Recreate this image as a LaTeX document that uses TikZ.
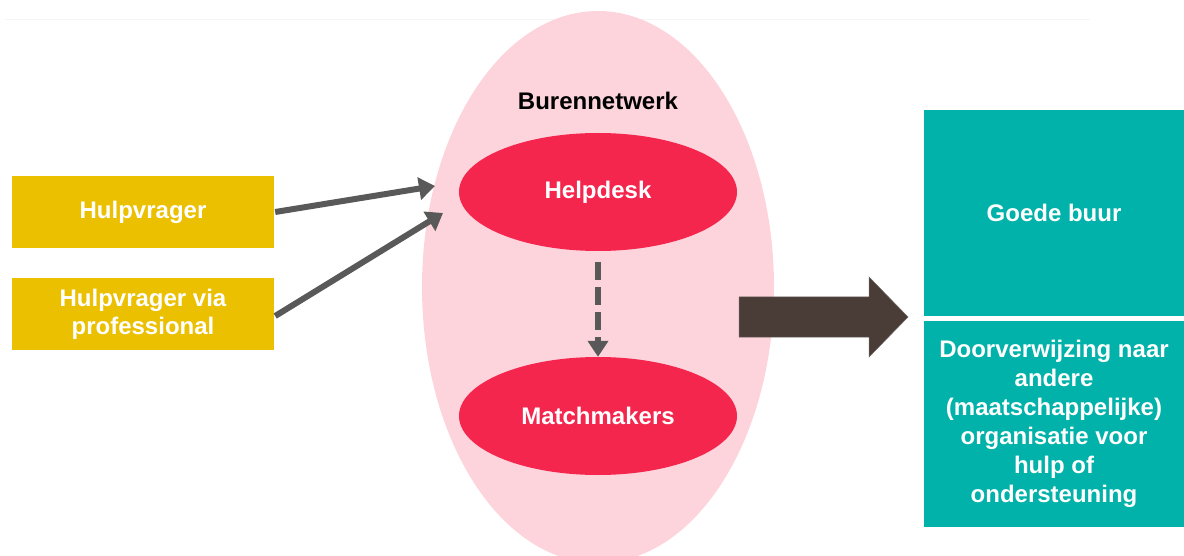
\documentclass[tikz,border=0pt]{standalone}
\usepackage{fontspec}
\setmainfont{Liberation Sans}
\usetikzlibrary{arrows.meta,shapes.geometric}
\definecolor{ybox}{HTML}{EBC000}
\definecolor{pinkbg}{HTML}{FDD4DC}
\definecolor{redell}{HTML}{F4264D}
\definecolor{teal}{HTML}{00B2A9}
\definecolor{darkbr}{HTML}{4A3C36}
\definecolor{arrgray}{HTML}{595959}
\tikzset{
  ybx/.style={fill=ybox, minimum width=262pt, minimum height=72pt, inner sep=0pt, text=white, font=\bfseries\fontsize{24}{28}\selectfont, align=center},
  tbx/.style={fill=teal, minimum width=260pt, minimum height=206pt, inner sep=0pt, text=white, font=\bfseries\fontsize{24}{29}\selectfont, align=center},
  rell/.style={ellipse, fill=redell, minimum width=278pt, minimum height=118pt, inner sep=0pt, text=white, font=\bfseries\fontsize{24}{28}\selectfont},
  garr/.style={draw=arrgray, line width=6pt, -{Triangle[length=16pt,width=22pt]}},
}
\begin{document}
\begin{tikzpicture}[x=1pt,y=-1pt]
\useasboundingbox (0,0) rectangle (1184,556);
\begin{scope}
\clip (0,0) rectangle (1184,556);
\draw[gray!8, line width=1pt] (5,20) -- (1090,20);
\fill[pinkbg] (598,287) ellipse [x radius=176, y radius=276];
\end{scope}
\node[font=\bfseries\fontsize{24}{28}\selectfont] (bn) at (598,101) {Burennetwerk};
\node[rell] (hd) at (598,192) {Helpdesk};
\node[rell] (mm) at (598,416) {Matchmakers};
\node[ybx] (h1) at (143,212) {Hulpvrager};
\node[ybx] (h2) at (143,314) {Hulpvrager via\\professional};
\node[tbx] (g1) at (1054,213) {Goede buur};
\node[tbx] (g2) at (1054,424) {Doorverwijzing naar\\andere\\(maatschappelijke)\\organisatie voor\\hulp of\\ondersteuning};
\coordinate (a1) at (435,186);
\coordinate (a2) at (443,213);
\draw[garr] (h1.east) ++(1,0) -- (a1);
\draw[garr] (h2.east) ++(1,2) -- (a2);
\draw[draw=arrgray, line width=6pt, dash pattern=on 18pt off 7pt, -{Triangle[length=16pt,width=20pt]}] (hd.south) ++(0,11) -- (mm.north);
\coordinate (ba) at (739,317);
\fill[darkbr, draw=gray!60!darkbr, line width=0.5pt] (ba) ++(0,-20) -- ++(130,0) -- ++(0,-20) -- (908,317) -- (869,357) -- ++(0,-20) -- ++(-130,0) -- cycle;
\end{tikzpicture}
\end{document}
